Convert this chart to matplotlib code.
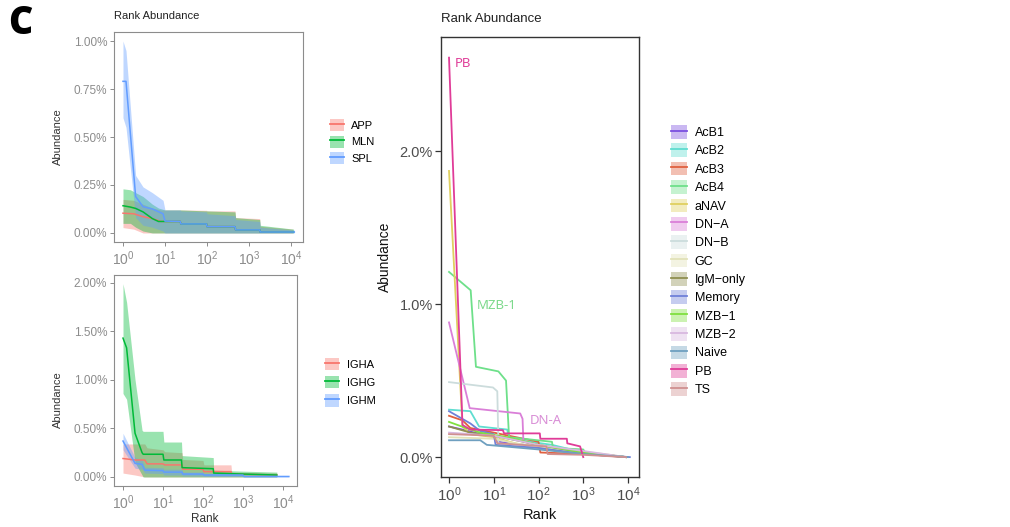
import numpy as np
import matplotlib
matplotlib.use("Agg")
import matplotlib.pyplot as plt
from matplotlib.patches import Patch
from matplotlib.lines import Line2D
from matplotlib.legend_handler import HandlerTuple
from matplotlib.ticker import LogLocator, LogFormatterMathtext, FuncFormatter, NullLocator

plt.rcParams["font.family"] = ["Liberation Sans", "DejaVu Sans"]
plt.rcParams["mathtext.fontset"] = "custom"
plt.rcParams["mathtext.rm"] = "Liberation Sans"
plt.rcParams["mathtext.it"] = "Liberation Sans:italic"
plt.rcParams["mathtext.default"] = "regular"

# ---------------- tissue panel (abundance in %) ----------------
tissues = ["APP", "MLN", "SPL"]
tissue_colors = ["#F8766D", "#00BA38", "#619CFF"]

APP_rank = [1, 1.8, 3, 5, 8, 23, 24, 98, 100, 465, 480, 1800, 1850, 11000]
APP_mean = [0.103, 0.10, 0.085, 0.075, 0.06, 0.06, 0.047, 0.047, 0.033, 0.033, 0.016, 0.016, 0.005, 0.005]
APP_lo = [0.028, 0.02, 0.0, 0.0, 0.0, 0.0, 0.0, 0.0, 0.0, 0.0, 0.0, 0.0, 0.0, 0.0]
APP_hi = [0.175, 0.17, 0.15, 0.13, 0.12, 0.12, 0.12, 0.118, 0.115, 0.115, 0.08, 0.075, 0.035, 0.02]

MLN_rank = [1, 1.5, 2, 3, 5, 7, 10, 23, 24, 98, 100, 465, 480, 1800, 1850, 11500]
MLN_mean = [0.142, 0.135, 0.128, 0.11, 0.075, 0.06, 0.06, 0.06, 0.047, 0.047, 0.033, 0.033, 0.016, 0.016, 0.005, 0.005]
MLN_lo = [0.05, 0.05, 0.03, 0.01, 0.0, 0.0, 0.0, 0.0, 0.0, 0.0, 0.0, 0.0, 0.0, 0.0, 0.0, 0.0]
MLN_hi = [0.23, 0.225, 0.21, 0.19, 0.15, 0.13, 0.12, 0.12, 0.12, 0.115, 0.115, 0.11, 0.08, 0.07, 0.04, 0.02]

SPL_rank = [1, 1.18, 2, 3, 5, 9, 10, 23, 24, 98, 100, 465, 480, 1800, 1850, 12000]
SPL_mean = [0.79, 0.79, 0.19, 0.137, 0.125, 0.10, 0.062, 0.06, 0.047, 0.047, 0.033, 0.033, 0.016, 0.016, 0.005, 0.005]
SPL_lo = [0.60, 0.55, 0.08, 0.04, 0.03, 0.01, 0.0, 0.0, 0.0, 0.0, 0.0, 0.0, 0.0, 0.0, 0.0, 0.0]
SPL_hi = [1.00, 0.95, 0.30, 0.24, 0.21, 0.17, 0.12, 0.12, 0.115, 0.11, 0.10, 0.09, 0.07, 0.06, 0.03, 0.015]

# ---------------- isotype panel (abundance in %) ----------------
isotypes = ["IGHA", "IGHG", "IGHM"]
isotype_colors = ["#F8766D", "#00BA38", "#619CFF"]

IGHA_rank = [1, 2, 3.5, 4, 10, 11, 30, 31, 100, 105, 500, 520, 7000]
IGHA_mean = [0.19, 0.175, 0.175, 0.135, 0.135, 0.124, 0.124, 0.08, 0.08, 0.055, 0.055, 0.03, 0.02]
IGHA_lo = [0.04, 0.02, 0.0, 0.0, 0.0, 0.0, 0.0, 0.0, 0.0, 0.0, 0.0, 0.0, 0.0]
IGHA_hi = [0.34, 0.34, 0.34, 0.3, 0.28, 0.26, 0.25, 0.18, 0.17, 0.125, 0.125, 0.05, 0.04]

IGHG_rank = [1, 1.23, 2, 3, 3.2, 10, 10.5, 29, 30, 180, 185, 1000, 7000]
IGHG_mean = [1.43, 1.33, 0.45, 0.25, 0.234, 0.234, 0.175, 0.175, 0.096, 0.085, 0.04, 0.03, 0.02]
IGHG_lo = [0.86, 0.80, 0.15, 0.02, 0.0, 0.0, 0.0, 0.0, 0.0, 0.0, 0.0, 0.0, 0.0]
IGHG_hi = [1.99, 1.80, 1.00, 0.48, 0.47, 0.47, 0.36, 0.36, 0.22, 0.20, 0.07, 0.06, 0.05]

IGHM_rank = [1, 2, 3, 3.5, 10, 10.5, 30, 31, 100, 105, 1000, 1050, 14000]
IGHM_mean = [0.37, 0.14, 0.13, 0.07, 0.065, 0.05, 0.05, 0.03, 0.03, 0.02, 0.02, 0.005, 0.005]
IGHM_lo = [0.28, 0.09, 0.08, 0.04, 0.035, 0.02, 0.02, 0.01, 0.01, 0.005, 0.005, 0.0, 0.0]
IGHM_hi = [0.45, 0.20, 0.18, 0.10, 0.095, 0.08, 0.08, 0.05, 0.05, 0.035, 0.035, 0.01, 0.01]

# ---------------- cell subset panel (abundance in %) ----------------
subsets = ["AcB1", "AcB2", "AcB3", "AcB4", "aNAV", "DN\u2212A", "DN\u2212B", "GC",
           "IgM\u2212only", "Memory", "MZB\u22121", "MZB\u22122", "Naive", "PB", "TS"]
subset_colors = ["#7B4FE0", "#5FDDD0", "#E0603F", "#6EE08A", "#E0D060", "#DA7FD8",
                 "#CCDCDC", "#E2E2B8", "#8F8F50", "#6F80D8", "#80E040", "#D8B8E0",
                 "#6FA0C0", "#E03C98", "#D09090"]

AcB1_rank = [1, 2, 5, 10, 12, 100, 1000, 9000]
AcB1_val = [0.20, 0.18, 0.15, 0.14, 0.10, 0.07, 0.03, 0.0]
AcB2_rank = [1, 3, 4.7, 20, 22, 200, 1000, 9000]
AcB2_val = [0.31, 0.30, 0.20, 0.18, 0.12, 0.08, 0.03, 0.0]
AcB3_rank = [1, 2, 3, 10, 100, 110, 1000, 9000]
AcB3_val = [0.27, 0.24, 0.19, 0.16, 0.10, 0.03, 0.02, 0.0]
AcB4_rank = [1, 3.05, 4, 12.7, 18.8, 22, 200, 210, 1000, 1100, 9000]
AcB4_val = [1.21, 1.09, 0.59, 0.56, 0.50, 0.13, 0.10, 0.06, 0.05, 0.03, 0.0]
aNAV_rank = [1, 2, 3, 10, 30, 100, 1000, 9000]
aNAV_val = [1.87, 0.20, 0.15, 0.13, 0.09, 0.06, 0.03, 0.0]
DNA_rank = [1, 2.9, 39, 44, 46, 200, 1000, 9000]
DNA_val = [0.88, 0.32, 0.285, 0.25, 0.10, 0.06, 0.03, 0.0]
DNB_rank = [1, 9.6, 12, 12.7, 100, 1000, 9000]
DNB_val = [0.49, 0.455, 0.43, 0.09, 0.07, 0.03, 0.0]
GC_rank = [1, 10, 30, 300, 3000, 9000]
GC_val = [0.13, 0.12, 0.09, 0.05, 0.02, 0.0]
IgM_rank = [1, 3, 10, 100, 1000, 9000]
IgM_val = [0.20, 0.16, 0.14, 0.08, 0.03, 0.0]
Memory_rank = [1, 3, 5, 10, 11, 100, 1000, 11000]
Memory_val = [0.30, 0.22, 0.17, 0.15, 0.08, 0.06, 0.02, 0.0]
MZB1_rank = [1, 3, 5, 20, 100, 1000, 9000]
MZB1_val = [0.23, 0.18, 0.16, 0.13, 0.08, 0.03, 0.0]
MZB2_rank = [1, 10, 100, 1000, 9000]
MZB2_val = [0.16, 0.14, 0.08, 0.04, 0.0]
Naive_rank = [1, 5, 7, 100, 1000, 10000]
Naive_val = [0.11, 0.11, 0.08, 0.05, 0.02, 0.0]
PB_rank = [1, 2, 3, 16, 17, 107, 110, 430, 440, 850, 1000]
PB_val = [2.61, 0.21, 0.18, 0.176, 0.155, 0.155, 0.12, 0.12, 0.09, 0.07, 0.0]
TS_rank = [1, 10, 12, 150, 160, 1000, 9000]
TS_val = [0.15, 0.14, 0.09, 0.07, 0.02, 0.015, 0.0]

subset_ranks = [AcB1_rank, AcB2_rank, AcB3_rank, AcB4_rank, aNAV_rank, DNA_rank, DNB_rank,
                GC_rank, IgM_rank, Memory_rank, MZB1_rank, MZB2_rank, Naive_rank, PB_rank, TS_rank]
subset_vals = [AcB1_val, AcB2_val, AcB3_val, AcB4_val, aNAV_val, DNA_val, DNB_val,
               GC_val, IgM_val, Memory_val, MZB1_val, MZB2_val, Naive_val, PB_val, TS_val]

W, H = 1010, 527
fig = plt.figure(figsize=(W / 100, H / 100), dpi=100)


def fx(px):
    return px / W


def fy(py):
    return 1 - py / H


def axes_px(left, top, right, bottom):
    return fig.add_axes([fx(left), fy(bottom), fx(right - left), (bottom - top) / H])


pct2 = FuncFormatter(lambda v, p: f"{v:.2f}%")
pct1 = FuncFormatter(lambda v, p: f"{v:.1f}%")


def style_small(ax, yticks):
    for s in ax.spines.values():
        s.set_color("#8C8C8C")
        s.set_linewidth(0.8)
    ax.set_xscale("log")
    ax.xaxis.set_major_locator(LogLocator(base=10, numticks=10))
    ax.xaxis.set_major_formatter(LogFormatterMathtext())
    ax.xaxis.set_minor_locator(NullLocator())
    ax.set_yticks(yticks)
    ax.yaxis.set_major_formatter(pct2)
    ax.tick_params(axis="both", labelsize=8.5, colors="#8C8C8C", labelcolor="#8C8C8C",
                   length=3, width=0.7, pad=2)
    ax.tick_params(axis="x", labelsize=10)


def draw_bands(ax, ranks, means, los, his, colors):
    for r, m, lo, hi, c in zip(ranks, means, los, his, colors):
        ax.fill_between(r, lo, hi, color=c, alpha=0.4, linewidth=0)
    for r, m, c in zip(ranks, means, colors):
        ax.plot(r, m, color=c, lw=1.1)


# --- tissue panel ---
ax1 = axes_px(114, 32, 303, 242)
draw_bands(ax1, [APP_rank, MLN_rank, SPL_rank], [APP_mean, MLN_mean, SPL_mean],
           [APP_lo, MLN_lo, SPL_lo], [APP_hi, MLN_hi, SPL_hi], tissue_colors)
ax1.set_xlim(10 ** -0.214, 10 ** 4.286)
ax1.set_ylim(-0.047, 1.047)
style_small(ax1, [0, 0.25, 0.5, 0.75, 1.0])

# --- isotype panel ---
ax2 = axes_px(114, 275, 297, 486)
draw_bands(ax2, [IGHA_rank, IGHG_rank, IGHM_rank], [IGHA_mean, IGHG_mean, IGHM_mean],
           [IGHA_lo, IGHG_lo, IGHM_lo], [IGHA_hi, IGHG_hi, IGHM_hi], isotype_colors)
ax2.set_xlim(10 ** -0.225, 10 ** 4.35)
ax2.set_ylim(-0.093, 2.08)
style_small(ax2, [0, 0.5, 1.0, 1.5, 2.0])

# --- cell subset panel ---
ax3 = axes_px(441, 37, 639, 477)
for r, v, c in zip(subset_ranks, subset_vals, subset_colors):
    ax3.plot(r, v, color=c, lw=1.3)
ax3.set_xscale("log")
ax3.set_xlim(10 ** -0.179, 10 ** 4.246)
ax3.set_ylim(-0.13, 2.745)
ax3.xaxis.set_major_locator(LogLocator(base=10, numticks=10))
ax3.xaxis.set_major_formatter(LogFormatterMathtext())
ax3.xaxis.set_minor_locator(NullLocator())
ax3.set_yticks([0, 1, 2])
ax3.yaxis.set_major_formatter(pct1)
for s in ax3.spines.values():
    s.set_color("#333333")
    s.set_linewidth(1.0)
ax3.tick_params(axis="both", labelsize=10.5, colors="#333333", labelcolor="#4D4D4D",
                length=4, width=0.9, pad=2)
ax3.tick_params(axis="x", labelsize=11)

lab_font = ["Noto Sans", "DejaVu Sans"]
ax3.text(1.36, 2.575, "PB", color="#E0409A", fontsize=9.5, family=lab_font, va="center", ha="left")
ax3.text(4.2, 0.99, "MZB-1", color="#7DD98C", fontsize=9.5, family=lab_font, va="center", ha="left")
ax3.text(65, 0.24, "DN-A", color="#D98ED6", fontsize=9.5, family=lab_font, va="center", ha="left")

# --- titles and axis labels ---
fig.text(fx(8), fy(23), "C", fontsize=27, fontweight="heavy", family=["Open Sans", "DejaVu Sans"],
         va="center", ha="left")
fig.text(fx(114), fy(16), "Rank Abundance", fontsize=8, va="center", ha="left", color="#222222")
fig.text(fx(441), fy(19), "Rank Abundance", fontsize=9.5, va="center", ha="left", color="#222222")
fig.text(fx(58), fy(137), "Abundance", fontsize=8, rotation=90, va="center", ha="center", color="#333333")
fig.text(fx(58), fy(400), "Abundance", fontsize=8, rotation=90, va="center", ha="center", color="#333333")
fig.text(fx(205), fy(519), "Rank", fontsize=8.5, va="center", ha="center", color="#333333")
fig.text(fx(385), fy(257), "Abundance", fontsize=10, rotation=90, va="center", ha="center", color="#111111")
fig.text(fx(540), fy(515), "Rank", fontsize=10.5, va="center", ha="center", color="#111111")


# --- legends: translucent key square overlaid by the line colour ---
def key_handles(colors, alpha):
    return [(Patch(facecolor=c, alpha=alpha, edgecolor="none"), Line2D([], [], color=c, lw=1.3))
            for c in colors]


common = dict(frameon=False, handler_map={tuple: HandlerTuple(ndivide=1, pad=0)},
              borderpad=0, borderaxespad=0, loc="upper left")
fig.legend(key_handles(tissue_colors, 0.4), tissues, bbox_to_anchor=(fx(330), fy(119)),
           fontsize=8, handlelength=1.3, handleheight=1.3, labelspacing=0.4,
           handletextpad=0.6, **common)
fig.legend(key_handles(isotype_colors, 0.4), isotypes, bbox_to_anchor=(fx(325), fy(358)),
           fontsize=8, handlelength=1.3, handleheight=1.3, labelspacing=0.55,
           handletextpad=0.7, **common)
fig.legend(key_handles(subset_colors, 0.4), subsets, bbox_to_anchor=(fx(671), fy(125)),
           fontsize=9, handlelength=1.3, handleheight=1.3, labelspacing=0.35,
           handletextpad=0.6, **common)

fig.savefig("out.png", dpi=100)
